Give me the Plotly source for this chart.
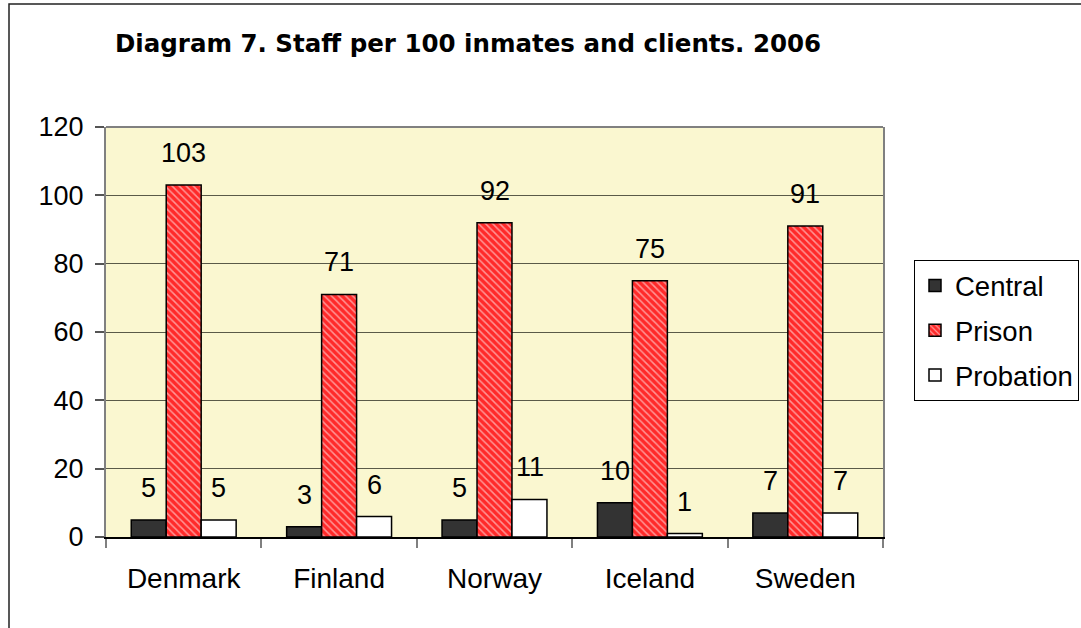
import plotly.graph_objects as go

countries = ["Denmark", "Finland", "Norway", "Iceland", "Sweden"]
central = [5, 3, 5, 10, 7]
prison = [103, 71, 92, 75, 91]
probation = [5, 6, 11, 1, 7]
series_names = ["Central", "Prison", "Probation"]
title_text = "Diagram 7. Staff per 100 inmates and clients. 2006"

W, H = 1081, 628
L, R, T, B = 106, 198, 127, 91
pw = W - L - R
ph = H - T - B

base_font = "Liberation Sans, Arial, sans-serif"

fig = go.Figure()
fig.add_trace(go.Bar(
    x=countries, y=central, name=series_names[0], legendgroup="a",
    marker=dict(color="#333333", line=dict(color="black", width=1.5)),
))
fig.add_trace(go.Bar(
    x=countries, y=prison, name=series_names[1], legendgroup="b",
    marker=dict(color="#FF2A2A", line=dict(color="black", width=1.5),
                pattern=dict(shape="\\", fgcolor="white", size=5, solidity=0.3)),
))
fig.add_trace(go.Bar(
    x=countries, y=probation, name=series_names[2], legendgroup="c",
    marker=dict(color="white", line=dict(color="black", width=1.5)),
))

# data labels
bar_w = 35
for vals, dx in ((central, -bar_w), (prison, 0), (probation, bar_w)):
    for c, v in zip(countries, vals):
        fig.add_annotation(x=c, y=v, xref="x", yref="y", text=str(v),
                           showarrow=False, xshift=dx, yshift=32,
                           yanchor="middle", xanchor="center",
                           font=dict(family=base_font, size=27, color="black"))

# outer chart border
fig.add_shape(type="rect", xref="paper", yref="paper",
              x0=(9 - L) / pw, x1=1.5, y0=-0.6, y1=(H - B - 4) / ph,
              line=dict(color="#222222", width=1.5), fillcolor="rgba(0,0,0,0)",
              layer="below")
# top border of plot area
fig.add_shape(type="line", xref="paper", yref="paper", x0=0, x1=1, y0=1, y1=1,
              line=dict(color="#808080", width=2))

fig.update_layout(
    width=W, height=H,
    margin=dict(l=L, r=R, t=T, b=B, pad=0, autoexpand=False),
    paper_bgcolor="white",
    plot_bgcolor="#FAF7D0",
    barmode="group",
    bargap=0.325,
    bargroupgap=0,
    title=dict(text="<b>" + title_text + "</b>", xref="container", yref="container",
               x=115 / W, xanchor="left", y=1 - 43 / H, yanchor="middle",
               font=dict(family="DejaVu Sans, sans-serif", size=24.5, color="black")),
    legend=dict(xref="container", yref="container",
                x=914 / W, xanchor="left", y=1 - 260 / H, yanchor="top",
                bgcolor="white", bordercolor="black", borderwidth=1,
                font=dict(family=base_font, size=27.5, color="black"),
                tracegroupgap=6, itemwidth=30, traceorder="grouped"),
    font=dict(family=base_font, color="black"),
    showlegend=True,
)
fig.update_xaxes(showline=True, linecolor="black", linewidth=1.5,
                 ticks="outside", tickson="boundaries", ticklen=9, tickcolor="#808080",
                 tickwidth=2, ticklabelstandoff=16,
                 tickfont=dict(family=base_font, size=28, color="black"),
                 showgrid=False, automargin=False)
fig.update_yaxes(range=[0, 120], dtick=20, tick0=0,
                 showline=True, mirror=True, linecolor="#808080", linewidth=2,
                 ticks="outside", ticklen=9, tickcolor="#555555", tickwidth=1.5,
                 ticklabelstandoff=6,
                 tickfont=dict(family=base_font, size=27, color="black"),
                 showgrid=True, gridcolor="#5a5a48", gridwidth=1, zeroline=False,
                 automargin=False)

fig.write_html("out.html", config={"displayModeBar": False},
               post_script="document.body.style.margin='0';")
